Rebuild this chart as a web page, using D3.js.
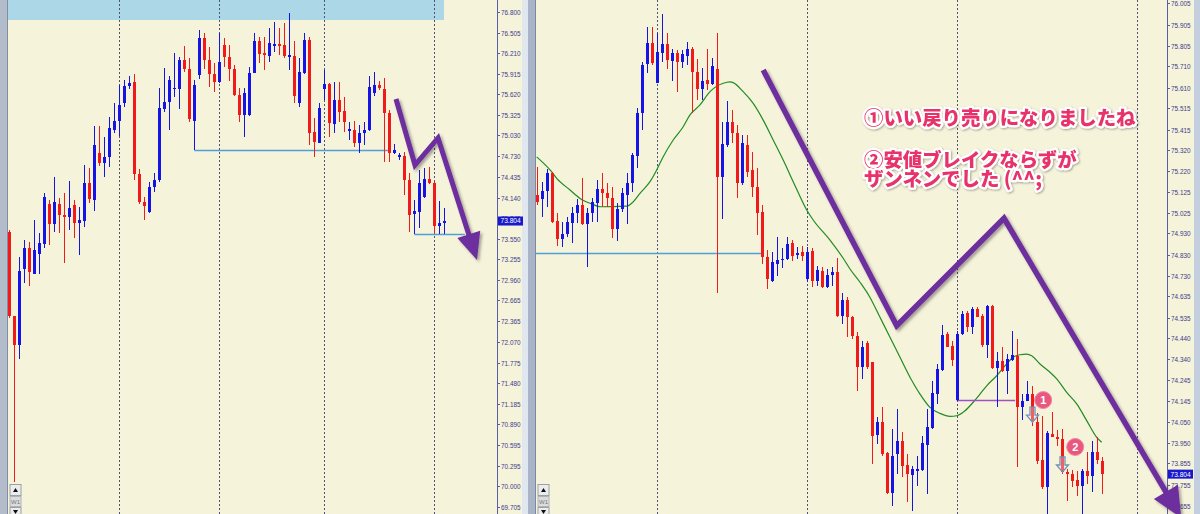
<!DOCTYPE html>
<html><head><meta charset="utf-8">
<script src="https://cdn.jsdelivr.net/npm/d3@7"></script>
<style>html,body{margin:0;padding:0;background:#f5f3da;overflow:hidden}</style>
</head><body><svg id="c" width="1200" height="514"></svg>
<script>
// ---------- DATA ----------
// Left panel (W1) candles: [open, high, low, close]
const leftOHLC = [
[73.647,73.675,72.414,72.443],[72.443,72.443,70.063,72.027],[72.027,73.288,71.826,73.088],[73.116,73.532,72.916,73.417],
[73.417,73.503,72.873,73.073],[73.045,73.819,73.045,73.389],[73.331,73.632,73.045,73.489],[73.475,74.206,73.417,74.148],
[74.048,74.105,73.460,73.761],[73.761,74.435,73.647,74.077],[74.048,74.134,73.632,73.890],[73.890,74.206,73.202,73.862],
[73.862,74.378,73.675,73.991],[74.034,74.105,73.561,73.776],[73.776,74.005,73.317,73.819],[73.804,74.607,73.718,74.349],
[74.349,74.564,74.062,74.120],[74.105,75.166,73.948,74.894],[74.779,75.166,74.593,74.636],[74.636,75.008,74.435,74.722],
[74.722,75.295,74.578,75.137],[75.109,75.496,75.066,75.238],[75.238,75.754,75.023,75.467],[75.496,75.825,75.438,75.739],
[75.739,75.883,75.696,75.782],[75.797,75.911,74.392,74.478],[74.478,74.550,74.048,74.077],[74.077,74.148,73.819,74.019],
[73.934,74.363,73.919,74.292],[74.292,74.492,74.220,74.392],[74.392,75.711,74.363,75.424],[75.410,75.997,75.367,75.510],
[75.510,75.883,75.109,75.825],[75.696,76.212,75.582,75.711],[75.696,76.155,75.410,76.112],[76.112,76.313,75.940,75.983],
[75.983,76.141,75.223,75.266],[75.238,75.825,74.822,75.754],[75.897,76.542,75.840,76.427],[76.427,76.499,75.983,76.112],
[76.112,76.298,75.725,75.911],[75.911,76.069,75.653,75.797],[75.797,76.499,75.782,76.083],[76.327,76.427,76.012,76.155],
[76.155,76.327,75.811,75.983],[75.983,76.040,75.596,75.610],[75.610,75.711,75.223,75.324],[75.324,75.711,75.008,75.639],
[75.324,76.012,75.309,75.926],[75.926,76.499,75.926,76.384],[76.384,76.442,76.069,76.198],[76.212,76.442,75.969,76.184],
[76.169,76.571,76.083,76.356],[76.313,76.657,76.227,76.341],[76.341,76.571,76.184,76.327],[76.327,76.642,76.141,76.169],
[76.155,76.786,75.969,76.184],[76.169,76.384,75.496,75.596],[75.496,76.141,75.438,75.940],[75.926,76.499,75.911,76.399],
[76.399,76.442,74.894,75.066],[75.080,75.281,74.722,74.937],[74.922,75.496,74.922,75.424],[75.696,75.969,75.539,75.768],
[75.768,75.782,75.008,75.209],[75.195,75.797,75.066,75.539],[75.539,75.797,75.223,75.367],[75.381,75.582,75.080,75.223],
[75.094,75.223,74.965,75.123],[75.109,75.238,74.865,74.922],[74.922,75.180,74.779,75.066],[75.066,75.223,74.894,75.109],
[75.109,75.883,75.094,75.725],[75.639,75.940,75.596,75.754],[75.754,75.811,75.682,75.711],[75.696,75.854,74.650,75.352],
[75.352,75.395,74.650,74.779],[74.779,74.908,74.765,74.822],[74.722,74.779,74.679,74.750],[74.736,74.793,74.177,74.392],
[74.392,74.492,73.647,73.890],[73.905,74.105,73.618,73.948],[73.934,74.535,73.704,74.349],[74.148,74.564,74.134,74.406],
[74.406,74.578,74.335,74.349],[74.349,74.363,73.632,73.733],[73.733,74.091,73.618,73.776],[73.776,73.991,73.618,73.804]
];
const leftTicks = ["76.800","76.505","76.210","75.915","75.620","75.325","75.030","74.730","74.435","74.140","73.845","73.550","73.255","72.960","72.665","72.365","72.070","71.775","71.480","71.185","70.890","70.595","70.295","70.000","69.705"];
const leftSeparators = [22, 42, 63, 85];
const leftHLines = [[37, 75.8, 74.822], [81, 91.1, 73.618]];          // [fromIndex, toIndex, price]
const leftZigzag = [[77.34,75.553],[81.14,74.607],[85.74,74.994],[93.54,73.245]];

// Right panel (D1) candles: [open, high, low, close]
const rightOHLC = [
[75.109,75.240,75.062,75.076],[75.090,75.170,75.006,75.128],[75.128,75.230,75.052,75.212],[75.212,75.216,74.977,74.982],
[74.987,75.024,74.870,74.903],[74.903,74.982,74.865,74.926],[74.926,75.006,74.912,74.982],[74.977,75.052,74.884,75.024],
[75.024,75.090,74.977,75.062],[75.062,75.188,74.968,74.973],[74.973,75.048,74.772,75.024],[75.024,75.095,74.982,75.076],
[75.071,75.179,74.982,75.137],[75.137,75.212,75.052,75.118],[75.118,75.165,75.052,75.095],[75.095,75.146,74.907,74.949],
[74.949,75.071,74.893,75.043],[75.043,75.142,75.029,75.118],[75.109,75.212,74.973,75.165],[75.165,75.305,75.123,75.296],
[75.291,75.516,75.235,75.492],[75.492,75.730,75.413,75.716],[75.721,75.894,75.679,75.819],[75.819,75.894,75.716,75.725],
[75.632,75.866,75.632,75.777],[75.772,75.955,75.730,75.814],[75.814,75.866,75.697,75.739],[75.735,75.791,75.641,75.772],
[75.772,75.786,75.590,75.730],[75.730,75.786,75.702,75.768],[75.758,75.824,75.716,75.791],[75.791,75.800,75.492,75.683],
[75.683,75.744,75.553,75.604],[75.604,75.702,75.553,75.641],[75.646,75.791,75.599,75.627],[75.627,75.749,75.623,75.711],
[75.697,75.866,74.650,75.193],[75.193,75.450,74.996,75.347],[75.343,75.548,75.333,75.450],[75.450,75.506,75.352,75.399],
[75.399,75.436,75.095,75.165],[75.165,75.389,75.156,75.352],[75.343,75.389,75.193,75.216],[75.226,75.310,75.100,75.146],
[75.146,75.235,74.921,75.024],[75.029,75.062,74.786,74.819],[74.819,74.851,74.669,74.716],[74.707,74.842,74.702,74.796],
[74.786,74.912,74.730,74.805],[74.805,74.861,74.767,74.810],[74.810,74.912,74.805,74.880],[74.884,74.898,74.800,74.824],
[74.828,74.865,74.810,74.838],[74.842,74.870,74.800,74.824],[74.716,74.865,74.702,74.842],[74.847,74.861,74.679,74.707],
[74.707,74.777,74.683,74.758],[74.753,74.772,74.674,74.679],[74.679,74.763,74.674,74.735],[74.735,74.772,74.683,74.749],
[74.749,74.814,74.539,74.543],[74.543,74.650,74.506,74.618],[74.618,74.632,74.445,74.539],[74.539,74.543,74.436,74.450],
[74.450,74.468,74.193,74.305],[74.305,74.426,74.249,74.398],[74.417,74.426,74.295,74.305],[74.328,74.328,73.851,73.982],
[73.986,74.071,73.944,74.047],[74.047,74.117,73.888,73.898],[73.902,73.907,73.711,73.716],[73.716,74.014,73.655,73.888],
[73.898,74.108,73.804,73.958],[73.958,74.000,73.790,73.842],[73.846,73.898,73.673,73.804],[73.800,73.842,73.631,73.828],
[73.818,73.888,73.748,73.828],[73.823,73.982,73.818,73.949],[73.940,74.108,73.711,74.024],[74.019,74.239,74.014,74.183],
[74.178,74.319,74.131,74.295],[74.290,74.501,74.286,74.454],[74.459,74.468,74.398,74.398],[74.403,74.426,74.309,74.337],
[74.150,74.473,74.146,74.459],[74.459,74.567,74.454,74.552],[74.557,74.567,74.468,74.492],[74.492,74.585,74.459,74.576],
[74.576,74.585,74.539,74.539],[74.543,74.552,74.398,74.408],[74.408,74.595,74.347,74.590],[74.590,74.595,74.295,74.300],
[74.300,74.375,74.117,74.333],[74.333,74.398,74.281,74.286],[74.286,74.365,74.178,74.342],[74.337,74.473,74.333,74.361],
[74.356,74.436,73.837,74.117],[74.117,74.178,74.057,74.146],[74.146,74.239,74.146,74.178],[74.178,74.216,74.029,74.052],
[74.047,74.089,73.851,73.865],[73.870,74.076,73.734,73.744],[73.744,74.005,73.618,73.996],[73.991,74.094,73.977,73.977],
[73.977,74.010,73.935,73.968],[73.968,74.014,73.804,73.814],[73.814,73.828,73.678,73.804],[73.804,73.823,73.744,73.772],
[73.776,73.818,73.702,73.748],[73.748,73.828,73.618,73.818],[73.818,73.907,73.758,73.795],[73.795,73.958,73.720,73.907],
[73.907,73.977,73.851,73.870],[73.865,73.884,73.711,73.804]
];
// Moving average: [candleIndex, price]
const rightMA = [
[0,75.287],[2.66,75.226],[4,75.187],[6.66,75.132],[8.66,75.093],[11,75.067],[12.66,75.054],[18,75.057],[19.3,75.077],
[20.66,75.117],[22.66,75.171],[24,75.226],[25.3,75.288],[27.3,75.366],[29.3,75.428],[30.66,75.483],[32.66,75.530],
[34.66,75.592],[35.66,75.612],[37.3,75.631],[38.66,75.638],[39.3,75.634],[41.3,75.592],[43.3,75.537],[45.3,75.459],
[47.3,75.366],[49.3,75.272],[51.3,75.171],[54,75.039],[55.3,74.992],[58.66,74.898],[61.3,74.813],[62.66,74.763],
[64.66,74.701],[66.66,74.630],[68.66,74.537],[70.66,74.444],[72.66,74.350],[74.66,74.257],[76.66,74.178],[78.66,74.116],
[80.66,74.088],[82.66,74.074],[84,74.077],[85.66,74.100],[87.3,74.140],[88.66,74.178],[90,74.217],[92,74.264],[94,74.319],
[95.3,74.350],[96.66,74.362],[98,74.365],[99,74.357],[100.66,74.319],[102.66,74.280],[104,74.249],[106,74.186],[108,74.132],
[110,74.054],[112,73.976],[113,73.953]
];
const rightTicks = ["76.005","75.905","75.805","75.710","75.610","75.515","75.415","75.320","75.220","75.125","75.025","74.930","74.830","74.730","74.635","74.535","74.440","74.340","74.245","74.145","74.050","73.950","73.855","73.755","73.655"];
const rightSeparators = [24, 54, 84, 120];
const rightHLines = [[-1, 45, 74.836, "#4f9fd8"], [84, 95.7, 74.150, "#a24fc6"]];
const rightZigzag = [[45.3,75.693],[72,74.498],[93.46,75.000],[128.9,73.600]];
const rightBadges = [["1", 101.3, 74.150], ["2", 107.7, 73.931]];
const rightSellArrows = [[99, 74.117], [105, 73.884]];
const currentPrice = 73.804;
const notes = ["①いい戻り売りになりましたね", "②安値ブレイクならずが", "ザンネンでした (^^;"];

// ---------- DRAW ----------
const svg = d3.select("#c");
const defs = svg.append("defs");
const sh = defs.append("filter").attr("id","sh").attr("x","-20%").attr("y","-20%").attr("width","140%").attr("height","140%");
sh.append("feDropShadow").attr("dx",2).attr("dy",2).attr("stdDeviation",1.6).attr("flood-color","#000").attr("flood-opacity",0.35);
const tsh = defs.append("filter").attr("id","tsh").attr("x","-10%").attr("y","-30%").attr("width","120%").attr("height","160%");
tsh.append("feDropShadow").attr("dx",1).attr("dy",1).attr("stdDeviation",1.2).attr("flood-color","#000").attr("flood-opacity",0.35);

// frame pieces
svg.append("rect").attr("x",0).attr("y",0).attr("width",1200).attr("height",514).attr("fill","#f5f3da");
svg.append("rect").attr("x",0).attr("y",0).attr("width",8).attr("height",514).attr("fill","#b3bccb");
svg.append("line").attr("x1",7.5).attr("x2",7.5).attr("y1",0).attr("y2",514).attr("stroke","#838ea2");
svg.append("rect").attr("x",522).attr("y",0).attr("width",6).attr("height",514).attr("fill","#e1e7ee");
svg.append("rect").attr("x",528).attr("y",0).attr("width",8).attr("height",514).attr("fill","#a9b5c7");
svg.append("line").attr("x1",535.5).attr("x2",535.5).attr("y1",0).attr("y2",514).attr("stroke","#7d889d");
svg.append("rect").attr("x",1194).attr("y",0).attr("width",6).attr("height",514).attr("fill","#c3cfde");

function drawPanel(p) {
  const g = svg.append("g");
  const clipId = "clip" + p.id;
  defs.append("clipPath").attr("id", clipId).append("rect")
    .attr("x", p.x0).attr("y", 0).attr("width", p.axisX - p.x0).attr("height", 514);
  const x = d3.scaleLinear().domain([0, p.ohlc.length - 1]).range(p.xRange);
  const y = d3.scaleLinear().domain(p.yDomain).range(p.yRange);
  const plot = g.append("g").attr("clip-path", `url(#${clipId})`);

  if (p.topBand) plot.append("rect").attr("x", p.x0).attr("y", 0).attr("width", p.topBand - p.x0).attr("height", 20).attr("fill", "#acd7e6");

  // period separators
  plot.selectAll("line.sep").data(p.separators).join("line")
    .attr("x1", d => Math.round(x(d)) + 0.5).attr("x2", d => Math.round(x(d)) + 0.5)
    .attr("y1", 0).attr("y2", 514).attr("stroke", "#50507e").attr("stroke-width", 1)
    .attr("stroke-dasharray", "2,2");

  if (p.ma) {
    plot.append("path").datum(p.ma)
      .attr("d", d3.line().x(d => x(d[0])).y(d => y(d[1])).curve(d3.curveMonotoneX))
      .attr("fill", "none").attr("stroke", "#228b22").attr("stroke-width", 1.2);
  }

  // horizontal lines
  plot.selectAll("line.h").data(p.hlines).join("line")
    .attr("x1", d => x(d[0])).attr("x2", d => x(d[1]))
    .attr("y1", d => Math.round(y(d[2])) + 0.5).attr("y2", d => Math.round(y(d[2])) + 0.5)
    .attr("stroke", d => d[3] || "#4f9fd8").attr("stroke-width", 1.6);

  // candles
  const c = plot.selectAll("g.cd").data(p.ohlc).join("g").attr("shape-rendering", "crispEdges");
  const col = d => d[3] >= d[0] ? "#1414e6" : "#f01a1a";
  c.append("line")
    .attr("x1", (d, i) => Math.round(x(i)) + 0.5).attr("x2", (d, i) => Math.round(x(i)) + 0.5)
    .attr("y1", d => y(d[1])).attr("y2", d => y(d[2]))
    .attr("stroke", col).attr("stroke-width", 1);
  c.append("rect")
    .attr("x", (d, i) => Math.round(x(i)) - 1).attr("width", 3)
    .attr("y", d => y(Math.max(d[0], d[3])))
    .attr("height", d => Math.max(1.5, Math.abs(y(d[0]) - y(d[3]))))
    .attr("fill", col);

  // sell arrows
  (p.sellArrows || []).forEach(d => {
    const cx = Math.round(x(d[0])) + 0.5, t = y(d[1]);
    plot.append("path").attr("d", `M${cx-2.5},${t} L${cx+2.5},${t} L${cx+2.5},${t+8} L${cx+6},${t+8} L${cx},${t+15} L${cx-6},${t+8} L${cx-2.5},${t+8} Z`)
      .attr("fill", "#e6eef6").attr("fill-opacity", 0.35).attr("stroke", "#7391bb").attr("stroke-width", 1.3);
  });
  // badges
  (p.badges || []).forEach(d => {
    const cx = x(d[1]), cy = y(d[2]);
    plot.append("circle").attr("cx", cx).attr("cy", cy).attr("r", 8.5).attr("fill", "#e9577f").attr("stroke", "#f08aa6").attr("stroke-width", 1);
    plot.append("text").attr("x", cx).attr("y", cy + 3.8).attr("text-anchor", "middle")
      .attr("font-family", "Liberation Sans, Arial").attr("font-size", 11).attr("font-weight", 700).attr("fill", "#fff").text(d[0]);
  });

  // axis
  g.append("line").attr("x1", p.axisX + 0.5).attr("x2", p.axisX + 0.5).attr("y1", 0).attr("y2", 514).attr("stroke", "#5b5ea6");
  const tk = g.selectAll("g.tk").data(p.ticks).join("g").attr("transform", d => `translate(${p.axisX},${Math.round(y(+d)) + 0.5})`);
  tk.append("line").attr("x1", 0).attr("x2", 3).attr("stroke", "#5b5ea6");
  tk.append("text").attr("x", 4).attr("y", 2.2).attr("font-family", "Liberation Sans, Arial").attr("font-size", 6.4)
    .attr("fill", "#3b3c8e").text(d => d);
  const py = y(currentPrice);
  g.append("rect").attr("x", p.axisX + 1).attr("y", py - 4.5).attr("width", 25).attr("height", 9).attr("fill", "#1818cc");
  g.append("text").attr("x", p.axisX + 3.5).attr("y", py + 2.4).attr("font-family", "Liberation Sans, Arial").attr("font-size", 6.6)
    .attr("fill", "#fff").text(currentPrice.toFixed(3));

  // zigzag arrow (drawn over the axis area, like the reference)
  const pts = p.zigzag.map(d => [x(d[0]), y(d[1])]);
  const n = pts.length, tip = pts[n - 1], prev = pts[n - 2];
  const ang = Math.atan2(tip[1] - prev[1], tip[0] - prev[0]);
  const L = p.headLen, W = p.headW;
  const base = [tip[0] - L * Math.cos(ang), tip[1] - L * Math.sin(ang)];
  const linePts = pts.slice(0, n - 1).concat([[tip[0] - (L - 4) * Math.cos(ang), tip[1] - (L - 4) * Math.sin(ang)]]);
  const zg = g.append("g").attr("filter", "url(#sh)");
  zg.append("path").attr("d", d3.line()(linePts)).attr("fill", "none")
    .attr("stroke", "#6d2d9e").attr("stroke-width", p.zw).attr("stroke-linejoin", "miter").attr("stroke-linecap", "butt");
  const nx = -Math.sin(ang), ny = Math.cos(ang);
  zg.append("path").attr("d", d3.line()([tip, [base[0] + nx * W / 2, base[1] + ny * W / 2], [base[0] - nx * W / 2, base[1] - ny * W / 2]]) + "Z")
    .attr("fill", "#6d2d9e");

  // bottom controls
  const bx = p.x0 + 2;
  g.append("rect").attr("x", bx).attr("y", 484.5).attr("width", 11).attr("height", 11).attr("fill", "#ececec").attr("stroke", "#9aa0a8");
  g.append("path").attr("d", `M${bx+3},${492} L${bx+8},${492} L${bx+5.5},${488} Z`).attr("fill", "#111");
  g.append("rect").attr("x", bx).attr("y", 496.5).attr("width", 11).attr("height", 10).attr("fill", "#dcdcdc").attr("stroke", "#b0b4ba");
  g.append("text").attr("x", bx + 5.5).attr("y", 504).attr("text-anchor", "middle").attr("font-family", "Liberation Sans, Arial")
    .attr("font-size", 6).attr("fill", "#777").text("W1");
  g.append("rect").attr("x", bx).attr("y", 507.5).attr("width", 11).attr("height", 8).attr("fill", "#ececec").attr("stroke", "#9aa0a8");
  g.append("path").attr("d", `M${bx+3},${510} L${bx+8},${510} L${bx+5.5},${514} Z`).attr("fill", "#111");
}

drawPanel({ id: "L", ohlc: leftOHLC, x0: 8, axisX: 497, xRange: [9.3, 444.3], yDomain: [69.705, 76.800], yRange: [507, 12],
  ticks: leftTicks, separators: leftSeparators, hlines: leftHLines, zigzag: leftZigzag, topBand: 444, headLen: 27, headW: 24, zw: 5 });
drawPanel({ id: "R", ohlc: rightOHLC, x0: 536, axisX: 1167, xRange: [536.7, 1101.7], yDomain: [73.655, 76.005], yRange: [506, 3.3],
  ticks: rightTicks, separators: rightSeparators, hlines: rightHLines, zigzag: rightZigzag, ma: rightMA, headLen: 30, headW: 28, zw: 5.5,
  badges: rightBadges, sellArrows: rightSellArrows });

// annotation text
const tg = svg.append("g").attr("filter", "url(#tsh)");
const styleNote = s => s.attr("font-family", "Noto Sans CJK JP").attr("font-weight", 900)
    .attr("font-size", 19.4).attr("fill", "#e8306a").attr("stroke", "#ffffff").attr("stroke-width", 4.5)
    .attr("stroke-linejoin", "round").attr("paint-order", "stroke");
tg.append("text").attr("x", 864).attr("y", 125).call(styleNote).text(notes[0]);
const t2 = tg.append("text").attr("x", 864).attr("y", 167).call(styleNote);
t2.append("tspan").attr("x", 864).attr("y", 167).text(notes[1]);
t2.append("tspan").attr("x", 864).attr("y", 186).text(notes[2]);
</script></body></html>
